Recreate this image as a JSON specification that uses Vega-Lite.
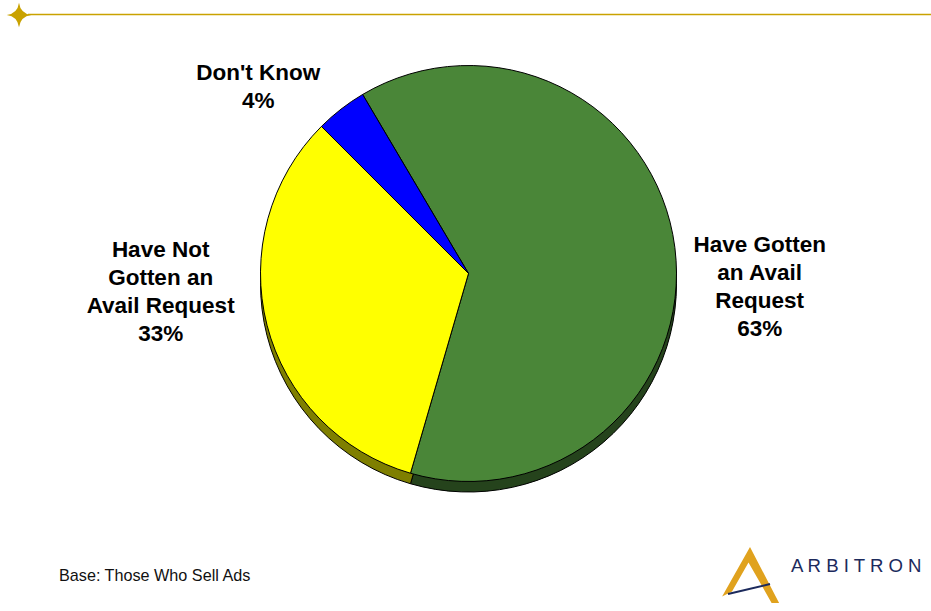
{
  "$schema": "https://vega.github.io/schema/vega-lite/v6.json",
  "width": 931,
  "height": 611,
  "autosize": "none",
  "padding": 0,
  "background": "white",
  "config": {"view": {"stroke": null}},
  "data": {"values": [
    {"category": "Have Gotten an Avail Request", "share": 63, "order": 1, "label": "Have Gotten\nan Avail\nRequest\n63%"},
    {"category": "Have Not Gotten an Avail Request", "share": 33, "order": 2, "label": "Have Not\nGotten an\nAvail Request\n33%"},
    {"category": "Don't Know", "share": 4, "order": 3, "label": "Don't Know\n4%"}
  ]},
  "layer": [
    {
      "mark": {"type": "arc", "radius": 208, "x": 468.5, "y": 284, "stroke": "black", "strokeWidth": 1},
      "encoding": {
        "theta": {"field": "share", "type": "quantitative", "stack": true, "scale": {"range": [-0.5341, 5.7491]}},
        "order": {"field": "order", "type": "quantitative"},
        "color": {"field": "category", "type": "nominal", "legend": null,
          "scale": {"domain": ["Have Gotten an Avail Request", "Have Not Gotten an Avail Request", "Don't Know"], "range": ["#4A8638", "#FFFF00", "#0000FF"]}}
      }
    },
    {
      "mark": {"type": "arc", "radius": 208, "x": 468.5, "y": 284, "color": "black", "opacity": 0.5, "strokeWidth": 0},
      "encoding": {
        "theta": {"field": "share", "type": "quantitative", "stack": true},
        "order": {"field": "order", "type": "quantitative"}
      }
    },
    {
      "mark": {"type": "arc", "radius": 208, "x": 468.5, "y": 273.5, "stroke": "black", "strokeWidth": 1},
      "encoding": {
        "theta": {"field": "share", "type": "quantitative", "stack": true},
        "order": {"field": "order", "type": "quantitative"},
        "color": {"field": "category", "type": "nominal", "legend": null}
      }
    },
    {
      "mark": {"type": "text", "x": 468, "y": 272.5, "radius": 292, "thetaOffset": 0.1745, "dy": -42, "font": "Liberation Sans", "fontWeight": "bold", "fontSize": 22.5, "lineHeight": 28, "lineBreak": "\n", "align": "center", "baseline": "middle", "color": "black"},
      "encoding": {
        "theta": {"field": "share", "type": "quantitative", "stack": true},
        "order": {"field": "order", "type": "quantitative"},
        "text": {"condition": {"test": "datum.order === 1", "field": "label"}, "value": ""}
      }
    },
    {
      "mark": {"type": "text", "x": 468, "y": 272.5, "radius": 308, "thetaOffset": 0.1868, "dy": -42, "font": "Liberation Sans", "fontWeight": "bold", "fontSize": 22.5, "lineHeight": 28, "lineBreak": "\n", "align": "center", "baseline": "middle", "color": "black"},
      "encoding": {
        "theta": {"field": "share", "type": "quantitative", "stack": true},
        "order": {"field": "order", "type": "quantitative"},
        "text": {"condition": {"test": "datum.order === 2", "field": "label"}, "value": ""}
      }
    },
    {
      "mark": {"type": "text", "x": 468, "y": 272.5, "radius": 280, "thetaOffset": -0.1868, "dy": -14, "font": "Liberation Sans", "fontWeight": "bold", "fontSize": 22.5, "lineHeight": 28.5, "lineBreak": "\n", "align": "center", "baseline": "middle", "color": "black"},
      "encoding": {
        "theta": {"field": "share", "type": "quantitative", "stack": true},
        "order": {"field": "order", "type": "quantitative"},
        "text": {"condition": {"test": "datum.order === 3", "field": "label"}, "value": ""}
      }
    },
    {
      "data": {"values": [{"note": "Base: Those Who Sell Ads", "brand": "A R B I T R O N"}]},
      "layer": [
        {
          "mark": {"type": "rule", "color": "#C9A200", "strokeWidth": 1.5},
          "encoding": {"x": {"value": 28}, "x2": {"value": 931}, "y": {"value": 14.5}, "y2": {"value": 14.5}}
        },
        {
          "mark": {"type": "point", "filled": true, "color": "#C9A200", "opacity": 1, "size": 600, "strokeWidth": 0,
            "shape": "M0,-1 Q0.12,-0.12 1,0 Q0.12,0.12 0,1 Q-0.12,0.12 -1,0 Q-0.12,-0.12 0,-1 Z"},
          "encoding": {"x": {"value": 19}, "y": {"value": 15}}
        },
        {
          "mark": {"type": "text", "font": "Liberation Sans", "fontSize": 16.2, "align": "left", "baseline": "alphabetic", "color": "#111111"},
          "encoding": {"x": {"value": 59}, "y": {"value": 581}, "text": {"field": "note"}}
        },
        {
          "mark": {"type": "text", "font": "Liberation Sans", "fontSize": 18.6, "align": "left", "baseline": "alphabetic", "color": "#1C2A5C"},
          "encoding": {"x": {"value": 791}, "y": {"value": 572}, "text": {"field": "brand"}}
        },
        {
          "mark": {"type": "point", "filled": true, "color": "#E0A21E", "opacity": 1, "size": 3600, "strokeWidth": 0,
            "shape": "M0,-0.93 L0.97,0.93 L0.72,0.93 L-0.05,-0.42 L-0.6,0.55 L-0.93,0.72 Z"},
          "encoding": {"x": {"value": 750}, "y": {"value": 575}}
        },
        {
          "mark": {"type": "rule", "color": "#1C2A5C", "strokeWidth": 2},
          "encoding": {"x": {"value": 728}, "y": {"value": 594}, "x2": {"value": 770}, "y2": {"value": 584}}
        }
      ]
    }
  ]
}
